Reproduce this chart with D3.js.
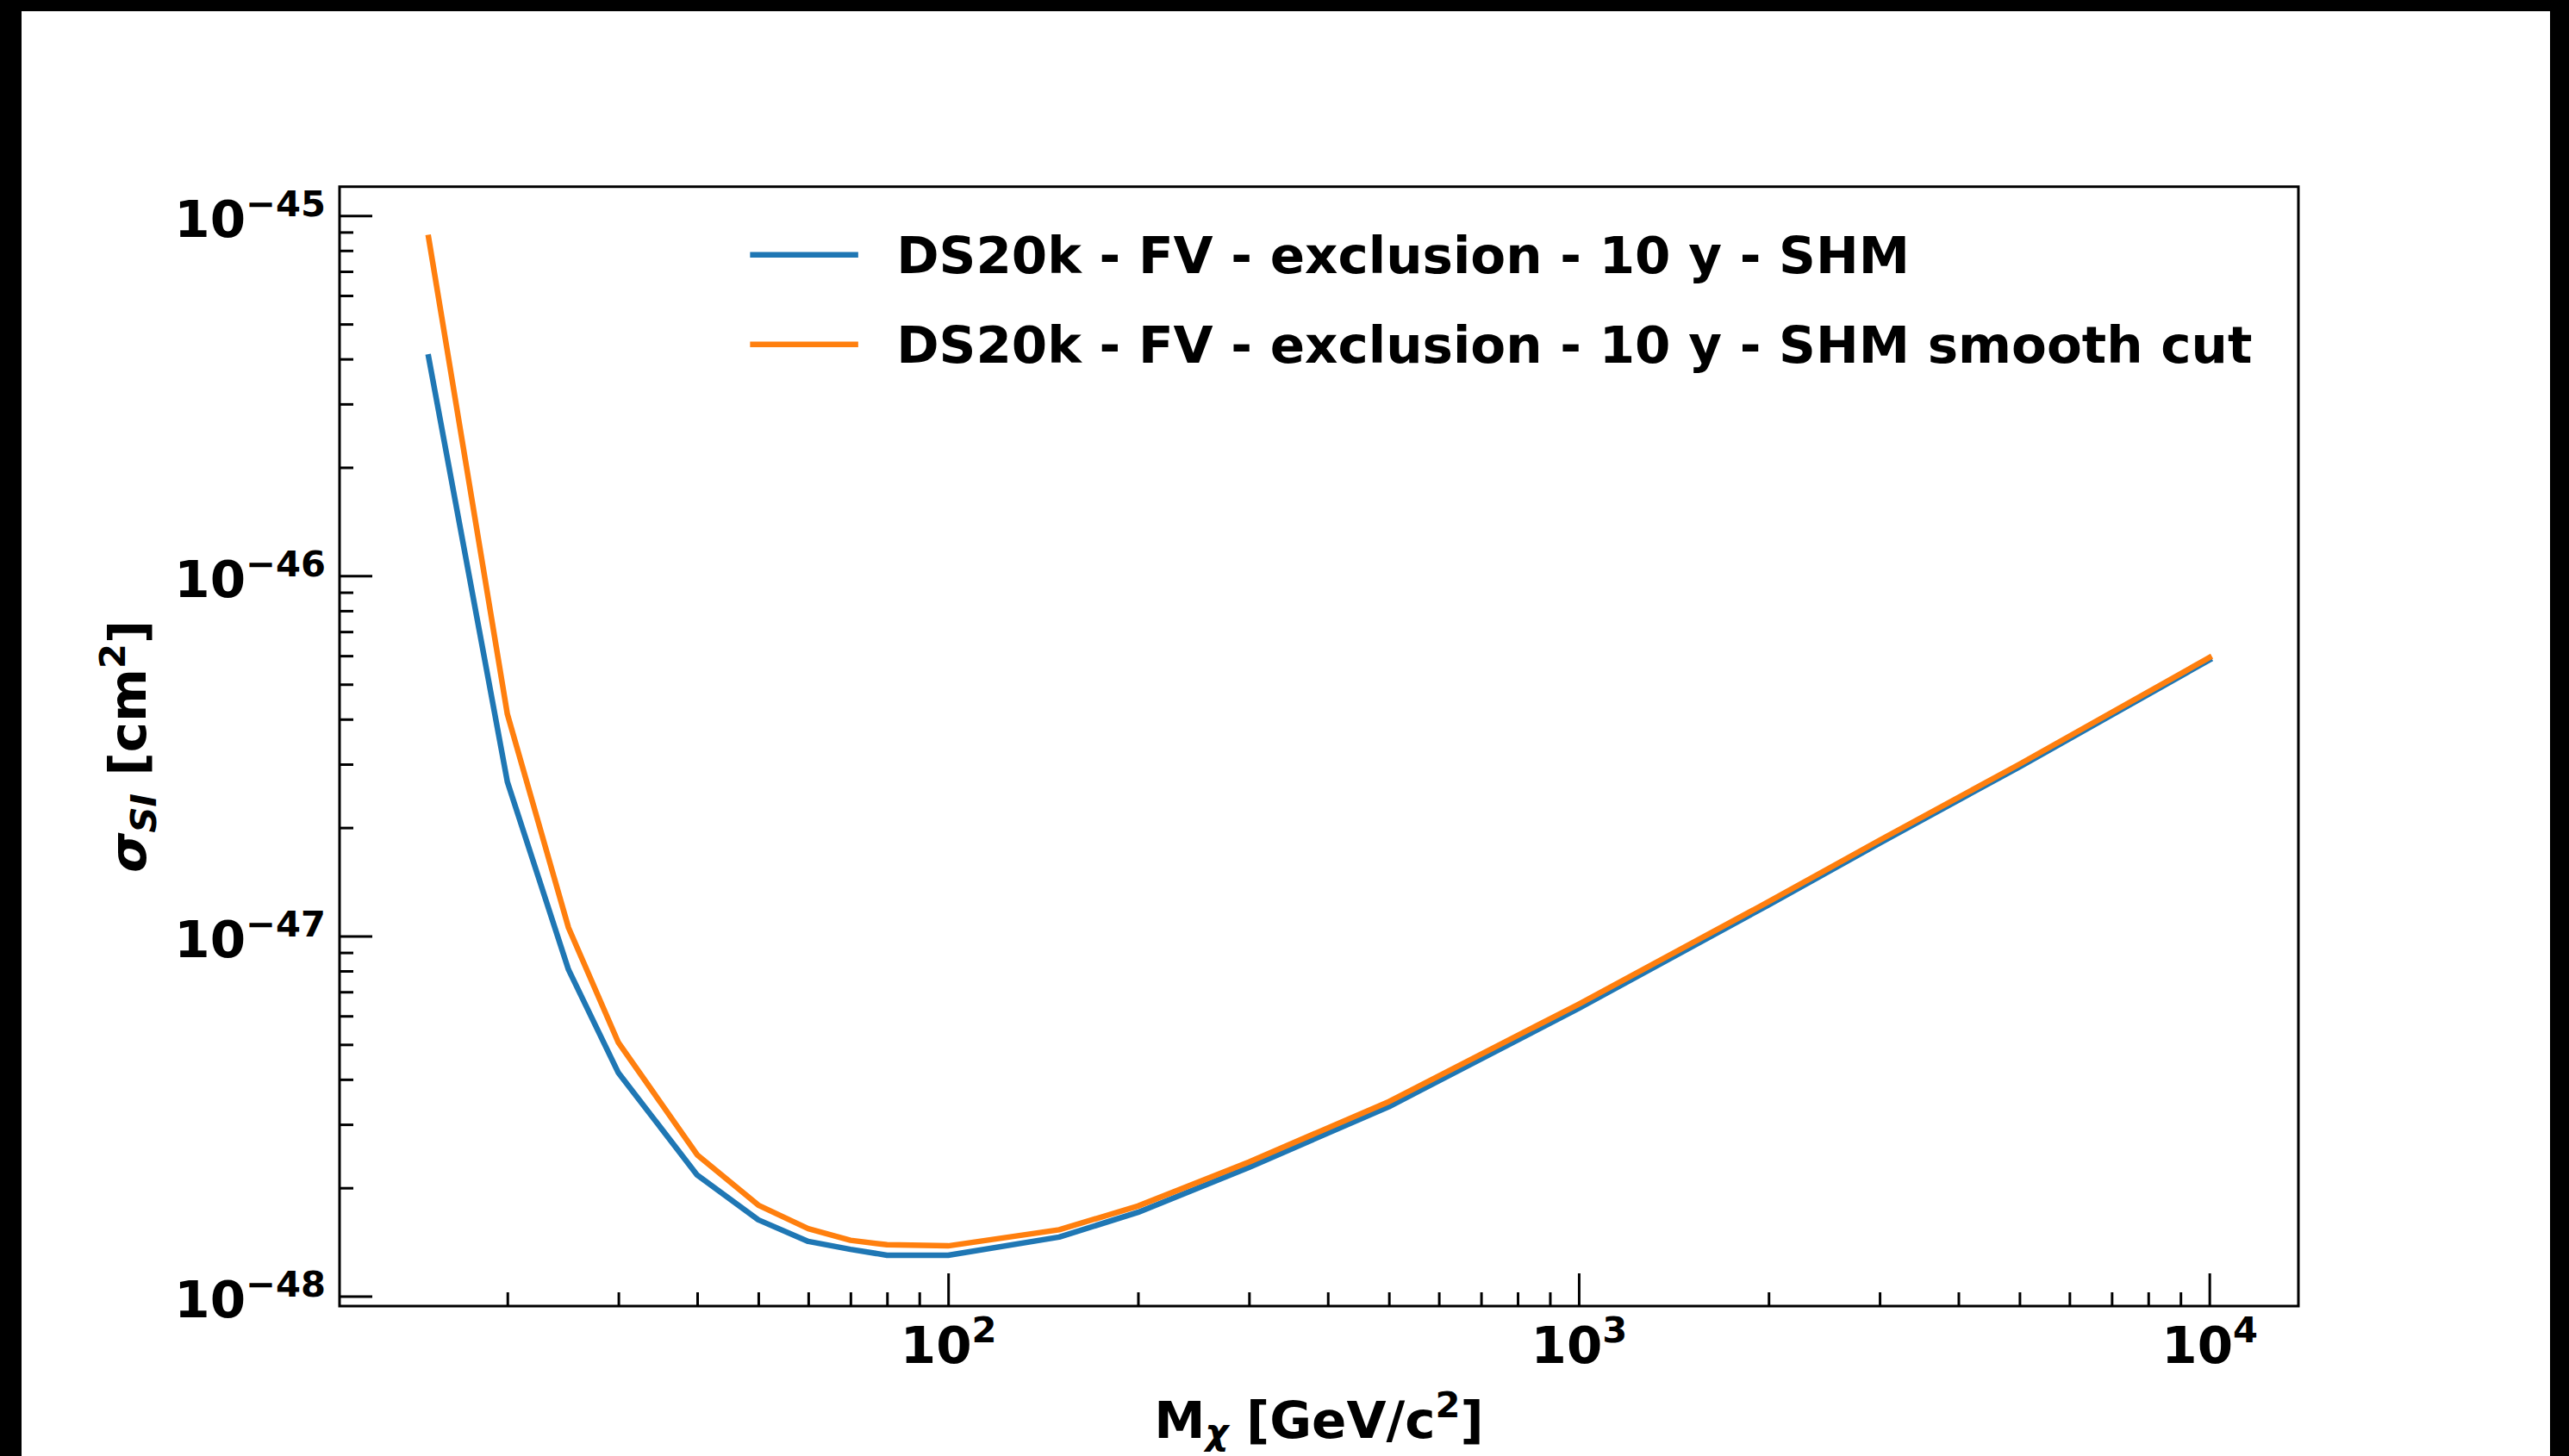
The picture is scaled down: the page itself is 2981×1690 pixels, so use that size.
<!DOCTYPE html>
<html lang="en">
<head>
    <meta charset="UTF-8">
    <title>DS20k exclusion</title>
    <script src="https://d3js.org/d3.v7.min.js"></script>
    <style>
        body {
            margin: 0;
            background: #000;
        }
        text {
            font-family: "DejaVu Sans", sans-serif;
            font-weight: bold;
            fill: #000;
        }
        .tick line {
            stroke: #000;
            stroke-width: 3;
        }
    </style>
</head>
<body>
<script>

    var width = 2981,
        height = 1690;

    // WIMP mass [GeV/c^2]
    var mass = [15, 20, 25, 30, 40, 50, 60, 70, 80, 100, 150, 200, 300, 500, 1000, 2000, 3000, 5000, 10000];

    // sigma_SI [cm^2]
    var shm = [4.05e-46, 2.68e-47, 8.07e-48, 4.17e-48, 2.17e-48, 1.63e-48, 1.42e-48, 1.35e-48, 1.30e-48, 1.30e-48,
               1.46e-48, 1.71e-48, 2.28e-48, 3.36e-48, 6.30e-48, 1.22e-47, 1.81e-47, 2.95e-47, 5.84e-47];
    var shmSmooth = [8.69e-46, 4.13e-47, 1.055e-47, 5.06e-48, 2.47e-48, 1.79e-48, 1.54e-48, 1.43e-48, 1.39e-48, 1.38e-48,
                     1.53e-48, 1.78e-48, 2.36e-48, 3.47e-48, 6.47e-48, 1.245e-47, 1.845e-47, 3.0e-47, 5.93e-47];

    var labels = ["DS20k - FV - exclusion - 10 y - SHM", "DS20k - FV - exclusion - 10 y - SHM smooth cut"];
    var colors = ["#1f77b4", "#ff7f0e"];

    var xMajor = [1e2, 1e3, 1e4];
    var yMajor = [1e-48, 1e-47, 1e-46, 1e-45];

    var margin = {left: 394, right: 2667, top: 216.7, bottom: 1516};
    var fs = 59.5;

    // matplotlib style 5% margins in log space
    function padded(vals) {
        var lo = Math.log10(d3.min(vals)), hi = Math.log10(d3.max(vals));
        var p = (hi - lo) * 0.05;
        return [Math.pow(10, lo - p), Math.pow(10, hi + p)];
    }

    var x = d3.scaleLog()
        .domain(padded(mass))
        .range([margin.left, margin.right]);

    var y = d3.scaleLog()
        .domain(padded(shm.concat(shmSmooth)))
        .range([margin.bottom, margin.top]);

    var svg = d3.select("body").append("svg")
        .attr("width", width)
        .attr("height", height);

    svg.append("rect")
        .attr("x", 25).attr("y", 13)
        .attr("width", 2959 - 25).attr("height", height - 13)
        .attr("fill", "#fff");

    // minor ticks
    function minors(scale) {
        var d = scale.domain(), out = [];
        for (var e = Math.floor(Math.log10(d[0])); e <= Math.ceil(Math.log10(d[1])); e++) {
            for (var k = 2; k <= 9; k++) {
                var v = k * Math.pow(10, e);
                if (v >= d[0] && v <= d[1]) out.push(v);
            }
        }
        return out;
    }

    function supLabel(sel, expOf) {
        sel.each(function(d) {
            var t = d3.select(this);
            t.text(null);
            t.append("tspan").text("10");
            t.append("tspan")
                .attr("dy", -24)
                .attr("font-size", fs * 0.7)
                .text(expOf(d));
        });
    }

    function expText(d) {
        return String(Math.round(Math.log10(d))).replace("-", "\u2212");
    }

    var gx = svg.append("g")
        .attr("transform", "translate(0," + margin.bottom + ")");

    gx.append("g")
        .call(d3.axisBottom(x).tickValues(minors(x)).tickSize(-16).tickSizeOuter(0).tickFormat(""))
        .call(function(g) { g.select(".domain").remove(); });

    gx.append("g")
        .call(d3.axisBottom(x).tickValues(xMajor).tickSize(-38).tickSizeOuter(0).tickPadding(24))
        .call(function(g) { g.select(".domain").remove(); })
        .selectAll("text")
        .attr("font-size", fs)
        .attr("dy", "0.71em")
        .call(supLabel, expText);

    var gy = svg.append("g")
        .attr("transform", "translate(" + margin.left + ",0)");

    gy.append("g")
        .call(d3.axisLeft(y).tickValues(minors(y)).tickSize(-16).tickSizeOuter(0).tickFormat(""))
        .call(function(g) { g.select(".domain").remove(); });

    gy.append("g")
        .call(d3.axisLeft(y).tickValues(yMajor).tickSize(-38).tickSizeOuter(0).tickPadding(16))
        .call(function(g) { g.select(".domain").remove(); })
        .selectAll("text")
        .attr("font-size", fs)
        .attr("dy", "0.4em")
        .call(supLabel, expText);

    // curves
    var line = d3.line()
        .x(function(d) { return x(d[0]); })
        .y(function(d) { return y(d[1]); });

    [shm, shmSmooth].forEach(function(s, i) {
        svg.append("path")
            .datum(d3.zip(mass, s))
            .attr("d", line)
            .attr("fill", "none")
            .attr("stroke", colors[i])
            .attr("stroke-width", 6.5)
            .attr("stroke-linejoin", "round")
            .attr("stroke-linecap", "square");
    });

    // frame
    svg.append("rect")
        .attr("x", margin.left)
        .attr("y", margin.top)
        .attr("width", margin.right - margin.left)
        .attr("height", margin.bottom - margin.top)
        .attr("fill", "none")
        .attr("stroke", "#000")
        .attr("stroke-width", 3);

    // axis labels
    var xl = svg.append("text")
        .attr("x", (margin.left + margin.right) / 2)
        .attr("y", 1669)
        .attr("text-anchor", "middle")
        .attr("font-size", fs);
    xl.append("tspan").text("M");
    xl.append("tspan").attr("dy", 7).attr("font-size", fs * 0.7).attr("font-style", "italic").text("\u03c7");
    xl.append("tspan").attr("dy", -7).text(" [GeV/c");
    xl.append("tspan").attr("dy", -24).attr("font-size", fs * 0.7).text("2");
    xl.append("tspan").attr("dy", 24).text("]");

    var yl = svg.append("text")
        .attr("transform", "translate(169," + (margin.top + margin.bottom) / 2 + ") rotate(-90)")
        .attr("text-anchor", "middle")
        .attr("font-size", fs);
    yl.append("tspan").attr("font-style", "italic").text("\u03c3");
    yl.append("tspan").attr("dy", 12).attr("font-size", fs * 0.7).attr("font-style", "italic").text("SI");
    yl.append("tspan").attr("dy", -12).text(" [cm");
    yl.append("tspan").attr("dy", -24).attr("font-size", fs * 0.7).text("2");
    yl.append("tspan").attr("dy", 24).text("]");

    // legend (upper right, no frame)
    var leg = svg.append("g");
    var items = leg.selectAll("g")
        .data(labels)
        .enter().append("g")
        .attr("transform", function(d, i) { return "translate(0," + (margin.top + 79 + i * 104) + ")"; });

    items.append("text")
        .attr("font-size", fs)
        .attr("dy", "0.36em")
        .text(function(d) { return d; });

    var maxW = d3.max(items.selectAll("text").nodes(), function(n) { return n.getComputedTextLength(); });
    var textX = margin.right - 0.5 * fs - 0.4 * fs - maxW;

    items.select("text").attr("x", textX);

    items.append("line")
        .attr("x1", textX - 0.8 * fs - 2 * fs)
        .attr("x2", textX - 0.8 * fs)
        .attr("stroke", function(d, i) { return colors[i]; })
        .attr("stroke-width", 6.5)
        .attr("stroke-linecap", "square");

</script>
</body>
</html>
